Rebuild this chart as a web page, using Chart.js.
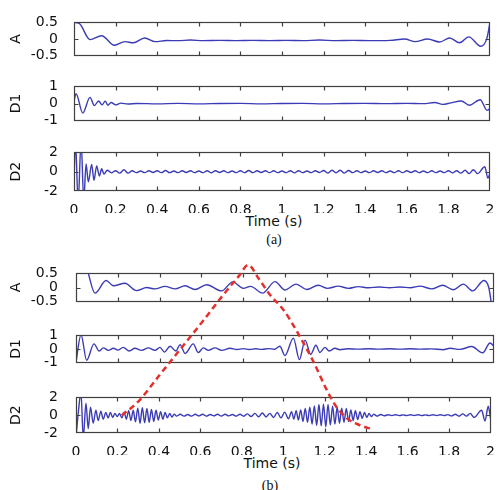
<!DOCTYPE html>
<html>
<head>
<meta charset="utf-8">
<script src="https://cdn.jsdelivr.net/npm/chart.js@4.4.0/dist/chart.umd.min.js"></script>
<style>
body { margin: 0; background: #fff; }
#wrap { position: relative; width: 498px; height: 490px; overflow: hidden; background: #fff; }
.panel { position: absolute; left: 0; width: 498px; }
.lbl { position: absolute; width: 200px; text-align: center; font-family: "DejaVu Sans"; font-size: 14px; line-height: 16px; color: #111; }
.cap { font-family: "Liberation Serif"; font-size: 14px; line-height: 16px; }
</style>
</head>
<body>
<div id="wrap">
  <div class="lbl" style="left:174px; top:213px;">Time (s)</div>
  <div class="lbl cap" style="left:174px; top:232px;">(a)</div>
  <div class="lbl" style="left:172px; top:455px;">Time (s)</div>
  <div class="lbl cap" style="left:170px; top:478px;">(b)</div>
</div>
<script>
// tick labels
const timeTicks = [0, 0.2, 0.4, 0.6, 0.8, 1, 1.2, 1.4, 1.6, 1.8, 2];
const ticksA = [-0.5, 0, 0.5];
const ticksD1 = [-1, 0, 1];
const ticksD2 = [-2, 0, 2];

// (a) approximation A
const timeA1 = [0, 0.025, 0.077, 0.133, 0.194, 0.245, 0.285, 0.34, 0.39, 0.445,
  0.5, 0.56, 0.62, 0.7, 0.78, 0.86, 0.94, 1.02, 1.1, 1.18,
  1.26, 1.34, 1.42, 1.52, 1.59, 1.64, 1.7, 1.758, 1.806, 1.854,
  1.898, 1.955, 1.985, 2.0];
const valA1 = [0.5, 0.47, -0.02, 0.1, -0.19, -0.08, -0.115, 0.03, -0.08, -0.045,
  -0.05, -0.03, -0.05, -0.04, -0.05, -0.04, -0.05, -0.04, -0.05, -0.03,
  -0.05, -0.04, -0.05, -0.04, 0, -0.08, 0, -0.09, 0.03, -0.115,
  0.065, -0.22, 0.02, 0.5];

// (a) detail D1
const timeD1a = [0, 0.01, 0.042, 0.077, 0.098, 0.118, 0.135, 0.15, 0.163, 0.178,
  0.2, 0.225, 0.26, 0.3, 0.4, 0.5, 0.6, 0.7, 0.8, 0.9,
  1.0, 1.1, 1.2, 1.3, 1.4, 1.5, 1.6, 1.68, 1.734, 1.772,
  1.812, 1.862, 1.9, 1.953, 1.986, 2.0];
const valD1a = [0.15, 0.57, -0.56, 0.36, -0.12, 0.15, -0.08, 0.14, -0.1, 0.06,
  -0.08, 0.02, -0.03, 0, -0.02, 0.01, -0.02, 0, 0.01, -0.02,
  0, 0.01, -0.02, 0, 0.01, -0.01, 0.01, -0.01, 0.06, -0.05,
  0.04, 0.15, -0.1, 0.22, -0.4, -0.3];

// (a) detail D2
const timeD2a = [0, 0.007, 0.02, 0.034, 0.047, 0.058, 0.069, 0.085, 0.096, 0.109, 0.122, 0.133, 0.144,
  0.16, 0.18, 0.2, 0.22, 0.24, 0.26, 0.28, 0.3, 0.32, 0.34,
  0.36, 0.38, 0.4, 0.42, 0.44, 0.46, 0.48, 0.5, 0.52, 0.54,
  0.56, 0.58, 0.6, 0.62, 0.64, 0.66, 0.68, 0.7, 0.72, 0.74,
  0.76, 0.78, 0.8, 0.82, 0.84, 0.86, 0.88, 0.9, 0.92, 0.94,
  0.96, 0.98, 1, 1.02, 1.04, 1.06, 1.08, 1.1, 1.12, 1.14,
  1.16, 1.18, 1.2, 1.22, 1.24, 1.26, 1.28, 1.3, 1.32, 1.34,
  1.36, 1.38, 1.4, 1.42, 1.44, 1.46, 1.48, 1.5, 1.52, 1.54,
  1.56, 1.58, 1.6, 1.62, 1.64, 1.66, 1.68, 1.7, 1.72, 1.74,
  1.76, 1.78, 1.8, 1.82, 1.84, 1.86, 1.88, 1.9, 1.92, 1.94,
  1.975, 1.99, 2.0];
const valD2a = [-1, 3.2, -3.2, 3.2, -3.0, 0.8, -1.05, 0.75, -0.9, 0.6, -0.45, 0.3, -0.25,
  0.15, -0.12, 0.1, -0.15, 0.2, -0.15, 0.1, -0.1, 0.08, -0.1,
  0.1, -0.08, 0.1, -0.1, 0.12, -0.1, 0.08, -0.1, 0.1, -0.08,
  0.1, -0.1, 0.08, -0.1, 0.1, -0.12, 0.1, -0.08, 0.1, -0.1,
  0.08, -0.1, 0.1, -0.1, 0.12, -0.1, 0.1, -0.08, 0.1, -0.1,
  0.1, -0.1, 0.08, -0.1, 0.1, -0.12, 0.1, -0.1, 0.08, -0.1,
  0.1, -0.08, 0.12, -0.15, 0.15, -0.12, 0.15, -0.15, 0.12, -0.1,
  0.1, -0.1, 0.08, -0.1, 0.1, -0.08, 0.1, -0.1, 0.08, -0.1,
  0.1, -0.1, 0.1, -0.08, 0.1, -0.1, 0.08, -0.1, 0.1, -0.1,
  0.08, -0.1, 0.1, -0.12, 0.1, -0.15, 0.15, -0.2, 0.2, -0.2,
  0.52, -0.67, -0.15];

// (b) approximation A
const timeA2 = [0.045, 0.059, 0.091, 0.144, 0.179, 0.234, 0.29, 0.338, 0.378, 0.426,
  0.474, 0.522, 0.569, 0.625, 0.697, 0.75, 0.8, 0.835, 0.893, 0.952,
  1.0, 1.053, 1.104, 1.159, 1.204, 1.255, 1.303, 1.351, 1.4, 1.45,
  1.5, 1.55, 1.6, 1.646, 1.702, 1.754, 1.805, 1.853, 1.898, 1.952,
  1.975, 1.99];
const valA2 = [0.9, 0.5, -0.2, 0.25, 0.06, 0.15, -0.11, 0, -0.05, 0.04,
  -0.05, 0.06, -0.07, 0.1, -0.12, 0.2, -0.03, 0.04, -0.2, 0.21,
  -0.09, 0.12, -0.07, 0.08, -0.03, 0.05, -0.03, 0.03, -0.01, 0.02,
  -0.01, 0.02, -0.01, 0.05, -0.05, 0.08, -0.08, 0.12, -0.12, 0.25,
  0.0, -0.7];

// (b) detail D1
const timeD1b = [0, 0.024, 0.051, 0.086, 0.111, 0.131, 0.155, 0.179, 0.2, 0.226,
  0.255, 0.282, 0.314, 0.346, 0.378, 0.402, 0.423, 0.45, 0.478, 0.498,
  0.522, 0.561, 0.585, 0.609, 0.633, 0.665, 0.697, 0.737, 0.77, 0.8,
  0.83, 0.86, 0.89, 0.92, 0.95, 0.975, 1.0, 1.04, 1.069, 1.096,
  1.123, 1.148, 1.167, 1.191, 1.212, 1.239, 1.263, 1.3, 1.35, 1.4,
  1.45, 1.5, 1.55, 1.6, 1.65, 1.7, 1.757, 1.79, 1.837, 1.893,
  1.946, 1.981, 2.0];
const valD1b = [-0.95, 1.05, -0.83, 0.38, -0.15, 0.08, -0.1, 0.05, -0.08, 0.12,
  -0.15, 0.05, -0.1, 0.08, -0.1, 0.12, -0.23, 0.2, -0.15, 0.32,
  -0.33, 0.38, -0.26, 0.08, -0.1, 0.08, -0.1, 0.05, -0.04, 0.03,
  -0.04, 0.02, -0.03, 0.03, -0.02, 0.2, -0.48, 0.8, -0.78, 0.65,
  -0.4, 0.28, -0.26, 0.12, -0.15, 0.05, -0.05, 0.02, -0.01, 0.02,
  -0.01, 0.02, -0.01, 0.02, -0.01, 0.01, -0.05, 0.05, -0.03, 0.18,
  -0.28, 0.44, 0.2];

// (b) detail D2
const timeD2b = [0, 0.012, 0.024, 0.035, 0.048, 0.059, 0.07, 0.083, 0.096, 0.107, 0.12, 0.131, 0.144, 0.155,
  0.166, 0.177, 0.188, 0.199, 0.21, 0.221, 0.232, 0.243, 0.254, 0.265,
  0.276, 0.287, 0.298, 0.309, 0.32, 0.331, 0.342, 0.353, 0.364, 0.375,
  0.386, 0.397, 0.408, 0.419, 0.43, 0.441, 0.452, 0.463, 0.474, 0.485,
  0.503, 0.521, 0.539, 0.557, 0.575, 0.593, 0.611, 0.629, 0.647, 0.665,
  0.683, 0.701, 0.719, 0.737, 0.755, 0.773, 0.791, 0.809, 0.827, 0.845,
  0.863, 0.881, 0.899, 0.917, 0.935, 0.953, 0.971, 0.989, 1.007, 1.025,
  1.04, 1.051, 1.062, 1.073, 1.084, 1.095, 1.106, 1.117, 1.128, 1.139,
  1.15, 1.161, 1.172, 1.183, 1.194, 1.205, 1.216, 1.227, 1.238, 1.249,
  1.26, 1.271, 1.282, 1.293, 1.304, 1.315, 1.326, 1.337, 1.348, 1.359,
  1.37, 1.381, 1.392, 1.403, 1.414, 1.425, 1.436,
  1.452, 1.47, 1.488, 1.506, 1.524, 1.542, 1.56, 1.578, 1.596, 1.614,
  1.632, 1.65, 1.668, 1.686, 1.704, 1.722, 1.74, 1.758, 1.776, 1.794,
  1.812, 1.83, 1.848, 1.866, 1.884, 1.902, 1.92,
  1.957, 1.973, 1.989, 2.0];
const valD2b = [-2.5, 0.5, 2.6, -2.6, 1.35, -1.5, 0.9, -0.9, 0.55, -0.6, 0.45, -0.45, 0.3, -0.3,
  0.3, -0.25, 0.2, -0.15, 0.2, -0.3, 0.35, -0.45, 0.5, -0.6,
  0.55, -0.75, 0.8, -0.9, 0.85, -0.85, 0.75, -0.8, 0.65, -0.7,
  0.55, -0.55, 0.4, -0.45, 0.3, -0.3, 0.2, -0.2, 0.12, -0.1,
  0.1, -0.1, 0.08, -0.1, 0.1, -0.08, 0.1, -0.1, 0.08, -0.08,
  0.1, -0.1, 0.1, -0.08, 0.08, -0.1, 0.1, -0.12, 0.15, -0.15,
  0.2, -0.18, 0.25, -0.2, 0.2, -0.25, 0.3, -0.3, 0.35, -0.4,
  0.4, -0.45, 0.5, -0.55, 0.6, -0.7, 0.75, -0.8, 0.9, -1.0,
  1.05, -1.15, 1.2, -1.2, 1.25, -1.3, 1.2, -1.1, 1.0, -1.0,
  0.9, -0.9, 0.8, -0.8, 0.75, -0.7, 0.6, -0.6, 0.5, -0.5,
  0.4, -0.35, 0.3, -0.25, 0.2, -0.15, 0.12,
  -0.1, 0.08, -0.06, 0.05, -0.05, 0.05, -0.05, 0.04, -0.05, 0.05,
  -0.04, 0.05, -0.05, 0.04, -0.05, 0.05, -0.05, 0.05, -0.05, 0.06,
  -0.08, 0.1, -0.12, 0.15, -0.1, 0.2, -0.25,
  0.55, -0.66, 1.0, -0.36];

// red dashed envelope in (b), height as fraction from D2 bottom (0) to A top (1)
const timeEnv = [0.219, 0.3, 0.4, 0.5, 0.6, 0.7, 0.78, 0.824, 0.872, 0.928,
  0.992, 1.024, 1.088, 1.135, 1.199, 1.239, 1.295, 1.359, 1.414];
const valEnv = [0.105, 0.19, 0.345, 0.5, 0.655, 0.815, 0.935, 1.0, 0.923, 0.823,
  0.734, 0.674, 0.536, 0.427, 0.258, 0.168, 0.089, 0.046, 0.024];

const BLUE = '#3b3bb6';
const FONT = { family: 'DejaVu Sans', size: 14 };
const PAD = 10;
const wrap = document.getElementById('wrap');

function toPoints(ts, vs) {
  return ts.map((t, i) => ({ x: t, y: vs[i] }));
}

// box frame and inward tick marks like the original figure
const frameTicks = {
  id: 'frameTicks',
  afterDraw(chart) {
    const { ctx, chartArea: a, scales } = chart;
    const l = Math.round(a.left) + 0.5, r = Math.round(a.right) - 0.5;
    const t = Math.round(a.top) + 0.5, b = Math.round(a.bottom) - 0.5;
    ctx.save();
    ctx.strokeStyle = '#404040';
    ctx.lineWidth = 1.2;
    ctx.strokeRect(l, t, r - l, b - t);
    ctx.beginPath();
    timeTicks.slice(1, -1).forEach(v => {
      const px = Math.round(scales.x.getPixelForValue(v)) + 0.5;
      ctx.moveTo(px, t); ctx.lineTo(px, t + 4);
      ctx.moveTo(px, b); ctx.lineTo(px, b - 4);
    });
    scales.y.ticks.slice(1, -1).forEach(tk => {
      const py = Math.round(scales.y.getPixelForValue(tk.value)) + 0.5;
      ctx.moveTo(l, py); ctx.lineTo(l + 4, py);
      ctx.moveTo(r, py); ctx.lineTo(r - 4, py);
    });
    ctx.stroke();
    ctx.restore();
  }
};

function addPanel(box, ts, vs, yTicks, name, showX) {
  const h = box.bottom - box.top;
  const cH = h + PAD + (showX ? 22 : PAD);
  const div = document.createElement('div');
  div.className = 'panel';
  div.style.top = (box.top - PAD) + 'px';
  div.style.height = cH + 'px';
  const cv = document.createElement('canvas');
  cv.width = 498;
  cv.height = cH;
  div.appendChild(cv);
  wrap.appendChild(div);

  const xScale = {
    type: 'linear', min: 0, max: 2, display: showX,
    grid: { display: false }, border: { display: false },
    afterBuildTicks: s => { s.ticks = timeTicks.map(v => ({ value: v })); },
    ticks: { padding: 3, maxRotation: 0, autoSkip: false, color: '#111', font: FONT, callback: v => String(v) }
  };
  if (showX) xScale.afterFit = s => { s.height = 22; };

  new Chart(cv, {
    type: 'line',
    data: {
      datasets: [{
        data: toPoints(ts, vs),
        borderColor: BLUE,
        borderWidth: 1.4,
        pointRadius: 0,
        fill: false,
        cubicInterpolationMode: 'monotone'
      }]
    },
    options: {
      responsive: false,
      animation: false,
      events: [],
      layout: { padding: { left: 0, right: 498 - box.right, top: PAD, bottom: showX ? 0 : PAD } },
      plugins: { legend: { display: false }, tooltip: { enabled: false } },
      scales: {
        x: xScale,
        y: {
          min: yTicks[0], max: yTicks[yTicks.length - 1],
          grid: { display: false }, border: { display: false },
          afterBuildTicks: s => { s.ticks = yTicks.map(v => ({ value: v })); },
          afterFit: s => { s.width = box.left; },
          ticks: { padding: box.left - 66, autoSkip: false, color: '#111', font: FONT, callback: v => String(v) },
          title: { display: true, text: name, color: '#111', font: FONT, padding: { top: 8, bottom: 0 } }
        }
      }
    },
    plugins: [frameTicks]
  });
}

// (a)
addPanel({ left: 74, right: 490, top: 16, bottom: 62 }, timeA1, valA1, ticksA, 'A', false);
addPanel({ left: 74, right: 490, top: 80, bottom: 127 }, timeD1a, valD1a, ticksD1, 'D1', false);
addPanel({ left: 74, right: 490, top: 146, bottom: 191 }, timeD2a, valD2a, ticksD2, 'D2', true);
// (b)
addPanel({ left: 76, right: 494, top: 265, bottom: 310 }, timeA2, valA2, ticksA, 'A', false);
addPanel({ left: 76, right: 494, top: 327, bottom: 371 }, timeD1b, valD1b, ticksD1, 'D1', false);
addPanel({ left: 76, right: 494, top: 389, bottom: 433 }, timeD2b, valD2b, ticksD2, 'D2', true);

// dashed envelope drawn across the three (b) panels
const ov = document.createElement('canvas');
ov.width = 498;
ov.height = 490;
ov.style.position = 'absolute';
ov.style.left = '0px';
ov.style.top = '0px';
wrap.appendChild(ov);
new Chart(ov, {
  type: 'line',
  data: {
    datasets: [{
      data: toPoints(timeEnv, valEnv),
      borderColor: '#e3302c',
      borderWidth: 2.5,
      borderDash: [6, 4],
      pointRadius: 0,
      fill: false,
      clip: false,
      cubicInterpolationMode: 'monotone'
    }]
  },
  options: {
    responsive: false,
    animation: false,
    events: [],
    layout: { padding: { left: 76, right: 4, top: 265, bottom: 57 } },
    plugins: { legend: { display: false }, tooltip: { enabled: false } },
    scales: {
      x: { type: 'linear', min: 0, max: 2, display: false },
      y: { min: 0, max: 1, display: false }
    }
  }
});
</script>
</body>
</html>
